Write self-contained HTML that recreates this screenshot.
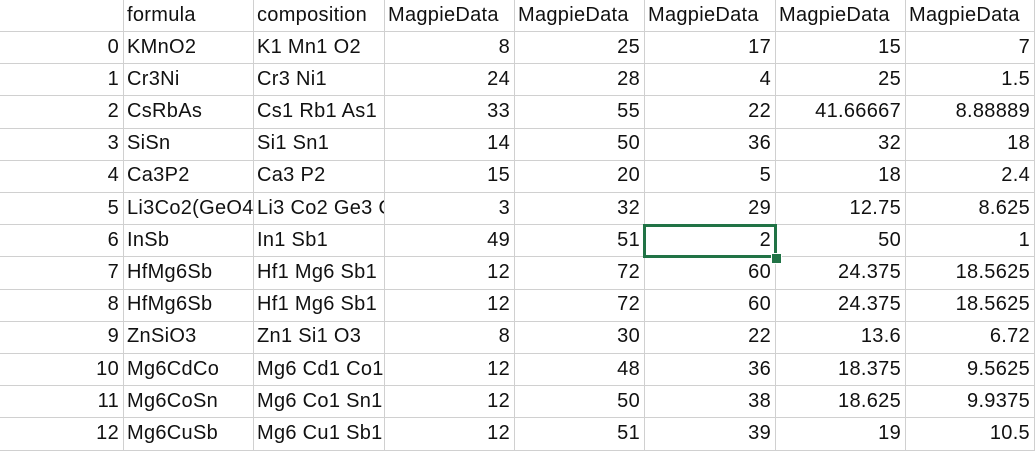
<!DOCTYPE html>
<html><head><meta charset="utf-8"><style>
body{margin:0;background:#fff;width:1036px;height:452px;overflow:hidden;font-family:"Liberation Sans",sans-serif;}
#g{position:absolute;left:0;top:0;width:1036px;height:452px}
.c{position:absolute;box-sizing:border-box;border-right:1px solid #d0d0d0;border-bottom:1px solid #d0d0d0;font-size:20px;letter-spacing:0.3px;color:#111;white-space:nowrap;overflow:hidden;padding:0 4px;display:flex;align-items:center}
.r{justify-content:flex-end}
#sel{position:absolute;box-sizing:border-box;border:3px solid #217346}
#hd{position:absolute;width:9px;height:9px;background:#217346;border:1px solid #fff}
</style></head><body>
<div id="g"></div>
<script>
const xs=[0,123,253,384,514,644,775,905,1034];
const headers=["","formula","composition","MagpieData","MagpieData","MagpieData","MagpieData","MagpieData"];
const rows=[
["0","KMnO2","K1 Mn1 O2","8","25","17","15","7"],
["1","Cr3Ni","Cr3 Ni1","24","28","4","25","1.5"],
["2","CsRbAs","Cs1 Rb1 As1","33","55","22","41.66667","8.88889"],
["3","SiSn","Si1 Sn1","14","50","36","32","18"],
["4","Ca3P2","Ca3 P2","15","20","5","18","2.4"],
["5","Li3Co2(GeO4)2","Li3 Co2 Ge3 O8","3","32","29","12.75","8.625"],
["6","InSb","In1 Sb1","49","51","2","50","1"],
["7","HfMg6Sb","Hf1 Mg6 Sb1","12","72","60","24.375","18.5625"],
["8","HfMg6Sb","Hf1 Mg6 Sb1","12","72","60","24.375","18.5625"],
["9","ZnSiO3","Zn1 Si1 O3","8","30","22","13.6","6.72"],
["10","Mg6CdCo","Mg6 Cd1 Co1","12","48","36","18.375","9.5625"],
["11","Mg6CoSn","Mg6 Co1 Sn1","12","50","38","18.625","9.9375"],
["12","Mg6CuSb","Mg6 Cu1 Sb1","12","51","39","19","10.5"]];
const g=document.getElementById('g');
const H0=32,RH=32.2;
function cell(x0,x1,y,h,t,right,name){
 const d=document.createElement('div');
 d.className='c'+(right?' r':'');
 d.style.left=x0+'px';d.style.width=(x1-x0+1)+'px';d.style.top=y+'px';d.style.height=(h+1)+'px';
 d.textContent=t;
 
 
 g.appendChild(d);
}
for(let j=0;j<8;j++)cell(xs[j],xs[j+1],-1,H0,headers[j],false,'header-cell');
rows.forEach((r,i)=>{
 const y=H0+i*RH-1;
 for(let j=0;j<8;j++)cell(xs[j],xs[j+1],y,RH,r[j],j==0||j>=3,j==0?'row-index':'data-cell');
});
const sy=H0+6*RH-1;
const s=document.createElement('div');s.id='sel';
s.style.left=(xs[5]-1)+'px';s.style.top=(sy)+'px';s.style.width=(xs[6]-xs[5]+3)+'px';s.style.height=(RH+2)+'px';


g.appendChild(s);
const h=document.createElement('div');h.id='hd';
h.style.left=(xs[6]-4)+'px';h.style.top=(sy+RH-3)+'px';


g.appendChild(h);
</script>
</body></html>
